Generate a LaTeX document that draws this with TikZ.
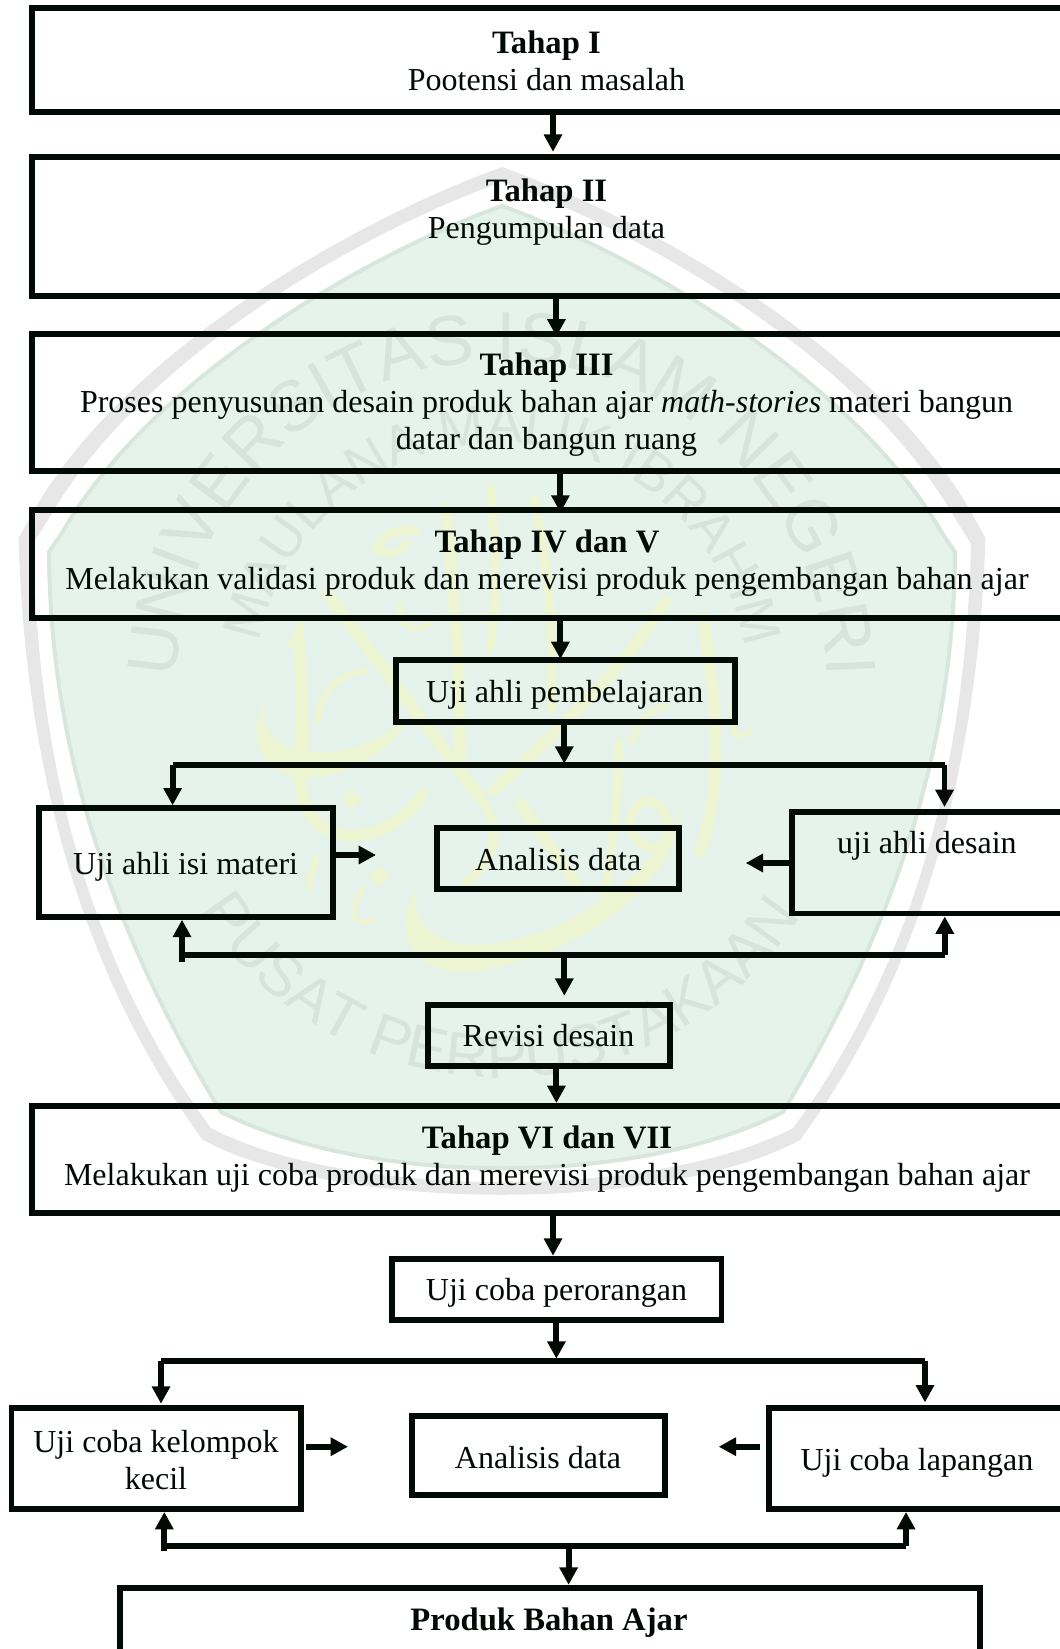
\documentclass[tikz,border=0pt]{standalone}
\usepackage{fontspec}
\setmainfont{Liberation Serif}
\newfontfamily\wmsans{Liberation Sans}
\usetikzlibrary{arrows.meta,decorations.text}
\definecolor{wmgray}{HTML}{E7E7E7}
\definecolor{wmfill}{HTML}{E5F3EC}
\definecolor{wmedge}{HTML}{D8E7DE}
\definecolor{wmtxt}{HTML}{D6E4DC}
\definecolor{calY}{HTML}{EDF5D3}
\definecolor{ink}{HTML}{020A05}
\newcommand{\wmA}{\wmsans\fontsize{53}{53}\selectfont\color{wmtxt}}
\newcommand{\wmB}{\wmsans\fontsize{41}{41}\selectfont\color{wmtxt}}
\newcommand{\wmC}{\wmsans\fontsize{45.5}{45.5}\selectfont\color{wmtxt}}
\newcommand{\ttl}[1]{{\fontsize{24.5}{27.5}\selectfont\bfseries #1}}
% \Bx{name}{left}{top}{right}{bottom}
\newcommand{\Bx}[5]{\node[boxn,minimum width={(#4-#2)*0.75pt},minimum height={(#5-#3)*0.75pt}] (#1) at ({(#2+#4)/2},{(#3+#5)/2}) {};}
\tikzset{
  boxn/.style={draw=ink,line width=4.4pt,inner sep=0pt,shape=rectangle},
  lbl/.style={anchor=base,align=center,inner sep=0pt,text=ink,font=\fontsize{24}{27.5}\selectfont},
  ln/.style={draw=ink,line width=4.4pt,line join=miter},
  ar/.style={ln,-{Triangle[length=13pt,width=13.2pt]}},
  cal/.style={draw=calY,line width=9pt,line cap=round},
  calf/.style={fill=calY},
}
\begin{document}
\begin{tikzpicture}[x=0.75pt,y=-0.75pt]
\useasboundingbox (0,0) rectangle (1060,1649);
\clip (0,0) rectangle (1060,1649);
\fill[white] (0,0) rectangle (1060,1649);
% watermark: shield
\fill[wmgray] (502,167) .. controls (350,222) and (130,350) .. (37,505) -- (18.6,538)
  .. controls (24,740) and (70,960) .. (203,1140) .. controls (340,1213) and (664,1213) .. (800,1140)
  .. controls (933,960) and (979,740) .. (985.4,538) -- (967,505) .. controls (874,350) and (654,222) .. (502,167) -- cycle;
\fill[white] (502,182) .. controls (355,235) and (140,360) .. (50,517) -- (33,544)
  .. controls (38,745) and (80,950) .. (211,1128) .. controls (350,1200) and (654,1200) .. (793,1128)
  .. controls (924,950) and (966,745) .. (971,544) -- (954,517) .. controls (864,360) and (649,235) .. (502,182) -- cycle;
\path[fill=wmfill,draw=wmedge,line width=3pt] (502,206) .. controls (365,255) and (150,380) .. (62,533) -- (49,552)
  .. controls (50,740) and (105,920) .. (221,1112) .. controls (370,1187) and (634,1187) .. (783,1112)
  .. controls (899,920) and (954,740) .. (955,552) -- (942,533) .. controls (854,380) and (639,255) .. (502,206) -- cycle;
% watermark: calligraphy
\begin{scope}[shift={(230,500)},x=0.2535pt,y=-0.2535pt]
\fill[calf] (105,585) .. controls (40,710) and (100,840) .. (260,820) .. controls (380,805) and (490,730) .. (535,635)
  .. controls (470,700) and (350,760) .. (230,745) .. controls (130,735) and (85,670) .. (105,585) -- cycle;
\fill[calf] (215,340) .. controls (230,500) and (235,650) .. (235,830) -- (185,830)
  .. controls (195,650) and (195,540) .. (185,430) -- (165,440) -- cycle;
\draw[cal] (208,830) .. controls (215,950) and (290,1010) .. (400,990) .. controls (470,975) and (530,930) .. (570,870);
\draw[cal] (290,280) -- (740,880);
\draw[cal,line width=7pt] (740,880) .. controls (800,960) and (800,1050) .. (700,1130);
\draw[cal,line width=7pt] (435,150) .. controls (440,100) and (500,85) .. (550,90);
\draw[cal,line width=6pt] (440,150) .. controls (480,165) and (510,150) .. (525,125);
\draw[cal] (640,30) .. controls (665,300) and (680,500) .. (680,780);
\draw[cal,line width=7pt] (770,-35) .. controls (790,150) and (790,300) .. (770,440);
\draw[cal,line width=7pt] (900,0) .. controls (930,150) and (960,300) .. (950,620);
\draw[cal] (1290,300) .. controls (1150,520) and (950,700) .. (780,860);
\draw[cal] (860,900) -- (1020,1130);
\draw[cal] (1400,350) .. controls (1440,600) and (1460,850) .. (1390,1040);
\draw[cal,line width=7pt] (1150,720) .. controls (1150,850) and (1140,950) .. (1110,1170);
\draw[cal,line width=7pt] (1240,890) .. controls (1170,900) and (1160,1010) .. (1250,1030) .. controls (1310,1030) and (1310,900) .. (1240,890);
\fill[calf] (555,1145) .. controls (470,1280) and (540,1410) .. (720,1395) .. controls (950,1370) and (1320,1190) .. (1335,900)
  .. controls (1280,1090) and (1000,1300) .. (750,1315) .. controls (600,1320) and (530,1250) .. (555,1145) -- cycle;
\fill[calf] (360,855) -- (390,885) -- (360,915) -- (330,885) -- cycle;
\fill[calf] (440,1085) -- (475,1115) -- (440,1145) -- (410,1115) -- cycle;
\draw[cal,line width=4pt] (395,1150) .. controls (340,1230) and (370,1270) .. (425,1240);
\draw[cal,line width=5pt] (255,1060) .. controls (240,1100) and (235,1130) .. (235,1150);
\draw[cal,line width=5pt] (400,505) .. controls (320,520) and (270,560) .. (260,650);
\draw[cal,line width=4.5pt] (1490,600) .. controls (1480,700) and (1500,720) .. (1540,680);
\draw[cal,line width=4.5pt] (500,310) .. controls (510,400) and (570,400) .. (610,340);
\draw[cal,line width=4.5pt] (1190,720) .. controls (1210,640) and (1250,615) .. (1290,610);
\end{scope}
% watermark: lettering
\path[decorate,decoration={text along path,text align={fit to path},text={|\wmA|UNIVERSITAS ISLAM NEGERI}}]
  plot[domain=178.5:1.5,samples=90] ({502+325*cos(\x)},{686-325*sin(\x)});
\path[decorate,decoration={text along path,text align={fit to path},text={|\wmB|MAULANA MALIK IBRAHIM}}]
  plot[domain=169:10,samples=90] ({502+247*cos(\x)},{690-247*sin(\x)});
\path[decorate,decoration={text along path,text align={fit to path},text={|\wmC|PUSAT PERPUSTAKAAN}}]
  plot[domain=212:327,samples=90] ({502+356*cos(\x)},{722-356*sin(\x)});
% boxes
\Bx{b1}{32}{8.3}{1072}{112}
\Bx{b2}{32}{157.4}{1072}{296.2}
\Bx{b3}{32}{334.4}{1072}{470.7}
\Bx{b4}{32}{510.2}{1072}{617.6}
\Bx{pemb}{396.2}{660}{734.7}{721.8}
\Bx{isi}{39.2}{808.3}{333.2}{916.8}
\Bx{anA}{437.2}{827.6}{679.3}{889.1}
\Bx{des}{792}{812}{1072}{913.5}
\Bx{rev}{427.9}{1004.7}{669.8}{1065.8}
\Bx{b5}{32}{1106}{1072}{1213.3}
\Bx{per}{392}{1258.7}{721.5}{1320}
\Bx{kel}{11.5}{1408}{301}{1509}
\Bx{anB}{412.4}{1416}{665}{1495}
\Bx{lap}{769}{1408}{1072}{1509}
\Bx{prod}{119.7}{1587.7}{980.4}{1670}
% labels
\node[lbl] (t1) at (546.5,90.5) {\ttl{Tahap I}\\Pootensi dan masalah};
\node[lbl] (t2) at (546.5,238) {\ttl{Tahap II}\\Pengumpulan data};
\node[lbl] (t3) at (546.6,449) {\ttl{Tahap III}\\Proses penyusunan desain produk bahan ajar \textit{math-stories} materi bangun\\datar dan bangun ruang};
\node[lbl] (t4) at (547,589) {\ttl{Tahap IV dan V}\\Melakukan validasi produk dan merevisi produk pengembangan bahan ajar};
\node[lbl] (tpemb) at (564.7,702) {Uji ahli pembelajaran};
\node[lbl] (tisi) at (185.6,874) {Uji ahli isi materi};
\node[lbl] (tanA) at (558.2,870.5) {Analisis data};
\node[lbl] (tdes) at (926.9,853) {uji ahli desain};
\node[lbl] (trev) at (548.5,1046) {Revisi desain};
\node[lbl] (t5) at (547,1185) {\ttl{Tahap VI dan VII}\\Melakukan uji coba produk dan merevisi produk pengembangan bahan ajar};
\node[lbl] (tper) at (556.5,1300) {Uji coba perorangan};
\node[lbl] (tkel) at (156,1489) {Uji coba kelompok\\kecil};
\node[lbl] (tanB) at (538,1468) {Analisis data};
\node[lbl] (tlap) at (917,1470) {Uji coba lapangan};
\node[lbl] (tprod) at (549,1630) {\ttl{Produk Bahan Ajar}};
% connector guide coordinates
\coordinate (xa) at (553,0);
\coordinate (xb) at (556.4,0);
\coordinate (xc) at (560.4,0);
\coordinate (xd) at (564.3,0);
\coordinate (tbL) at (172.6,765);
\coordinate (tbR) at (944.5,765);
\coordinate (bbS) at (182,962);
\coordinate (bbL) at (180,955.4);
\coordinate (bbR) at (944.8,955.4);
\coordinate (ra) at (376,855);
\coordinate (la) at (745.7,863);
\coordinate (tcL) at (161,1360.7);
\coordinate (tcR) at (925,1360.7);
\coordinate (bcS) at (164.3,1551);
\coordinate (bcL) at (162,1545.7);
\coordinate (bcR) at (906,1545.7);
\coordinate (xe) at (568.6,1545.7);
\coordinate (rb) at (348,1446.7);
\coordinate (lb) at (718.7,1446.7);
% connectors
\draw[ar,shorten >=2pt] (b1.south -| xa) -- (b2.north -| xa);
\draw[ar,shorten >=-3.75pt] (b2.south -| xb) -- (b3.north -| xb);
\draw[ar,shorten >=-4pt] (b3.south -| xc) -- (b4.north -| xc);
\draw[ar,shorten >=-1.5pt] (b4.south -| xc) -- (pemb.north -| xc);
\draw[ar,shorten >=1pt] (pemb.south -| xd) -- (tbL -| xd);
\draw[ln] (tbL) -- (tbR);
\draw[ar] (tbL) -- (isi.north -| tbL);
\draw[ar,shorten >=1.5pt] (tbR) -- (des.north -| tbR);
\draw[ar] (isi.east |- ra) -- (ra);
\draw[ar] (des.west |- la) -- (la);
\draw[ar] (bbS) -- (isi.south -| bbS);
\draw[ln] (bbL) -- (bbR);
\draw[ar] (bbR) -- (des.south -| bbR);
\draw[ar,shorten >=4.5pt] (bbL -| xd) -- (rev.north -| xd);
\draw[ar] (rev.south -| xb) -- (b5.north -| xb);
\draw[ar] (b5.south -| xa) -- (per.north -| xa);
\draw[ar,shorten >=1.5pt] (per.south -| xb) -- (tcL -| xb);
\draw[ln] (tcL) -- (tcR);
\draw[ar,shorten >=1pt] (tcL) -- (kel.north -| tcL);
\draw[ar,shorten >=2pt] (tcR) -- (lap.north -| tcR);
\draw[ar,shorten <=1.7pt] (kel.east |- rb) -- (rb);
\draw[ar,shorten <=4.2pt] (lap.west |- lb) -- (lb);
\draw[ar] (bcS) -- (kel.south -| bcS);
\draw[ln] (bcL) -- (bcR);
\draw[ar] (bcR) -- (lap.south -| bcR);
\draw[ar] (xe) -- (prod.north -| xe);
\end{tikzpicture}
\end{document}
